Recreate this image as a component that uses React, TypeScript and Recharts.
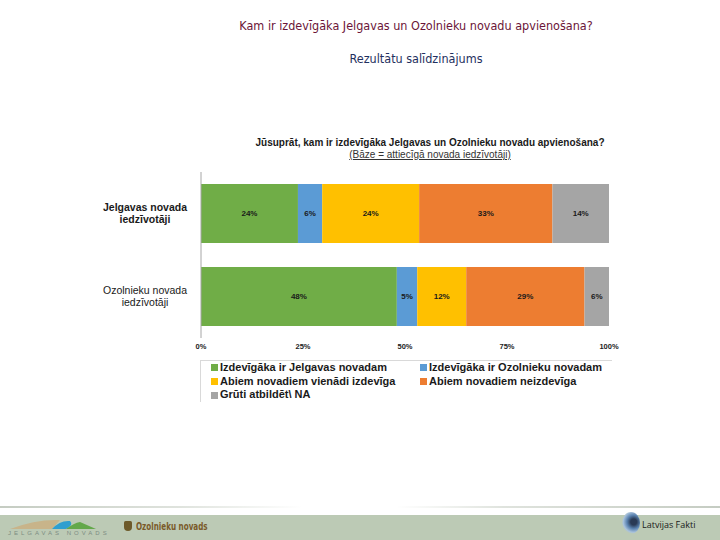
import { BarChart, Bar, XAxis, YAxis, LabelList, Legend } from "recharts";

// categories (rows) and the five answer options
const CATEGORIES = ["Jelgavas novada|iedzīvotāji", "Ozolnieku novada|iedzīvotāji"];
const SERIES_KEYS = ["jelgava", "ozolnieki", "abiem", "neizdeviga", "gruti"];
const SERIES_NAMES = [
  "Izdevīgāka ir Jelgavas novadam",
  "Izdevīgāka ir Ozolnieku novadam",
  "Abiem novadiem vienādi izdevīga",
  "Abiem novadiem neizdevīga",
  "Grūti atbildēt\\ NA",
];
const SERIES_COLORS = ["#70ad47", "#5b9bd5", "#ffc000", "#ed7d31", "#a5a5a5"];

const JELGAVA_VALUES = [24, 48];
const OZOLNIEKI_VALUES = [6, 5];
const ABIEM_VALUES = [24, 12];
const NEIZDEVIGA_VALUES = [33, 29];
const GRUTI_VALUES = [14, 6];

const X_TICKS = [0, 0.25, 0.5, 0.75, 1];

const SERIES_VALUES = [JELGAVA_VALUES, OZOLNIEKI_VALUES, ABIEM_VALUES, NEIZDEVIGA_VALUES, GRUTI_VALUES];

const data = CATEGORIES.map((name, i) => {
  const row: Record<string, string | number> = { name };
  SERIES_KEYS.forEach((k, s) => {
    row[k] = SERIES_VALUES[s][i];
  });
  return row;
});

const FONT = "'Liberation Sans', Arial, sans-serif";

function CategoryTick(props: any) {
  const { y, payload, index } = props;
  const lines = String(payload.value).split("|");
  return (
    <text
      x={145}
      y={y}
      textAnchor="middle"
      fontFamily={FONT}
      fontSize={10.5}
      fontWeight={index === 0 ? 700 : 400}
      fill="#1a1a1a"
    >
      {lines.map((l, j) => (
        <tspan key={j} x={145} dy={j === 0 ? -2.5 : 12}>
          {l}
        </tspan>
      ))}
    </text>
  );
}

function LegendBox(props: any) {
  // keep the series order of the original legend (recharts sorts by name)
  const payload = [...(props.payload || [])].sort(
    (a: any, b: any) => SERIES_NAMES.indexOf(a.value) - SERIES_NAMES.indexOf(b.value)
  );
  return (
    <div
      style={{
        display: "grid",
        gridTemplateColumns: "209px 200px",
        paddingLeft: 10,
        borderTop: "1px solid #d9d9d9",
        borderLeft: "1px solid #d9d9d9",
        height: 42,
        boxSizing: "border-box",
        fontFamily: FONT,
        fontSize: 11,
        fontWeight: 700,
        color: "#1a1a1a",
        lineHeight: "13.5px",
      }}
    >
      {payload.map((p: any) => (
        <div key={p.value} style={{ display: "flex", alignItems: "center", whiteSpace: "nowrap" }}>
          <span style={{ width: 7, height: 7, background: p.color, marginRight: 2, display: "inline-block" }} />
          {p.value}
        </div>
      ))}
    </div>
  );
}

export default function App() {
  return (
    <div
      style={{
        position: "absolute",
        left: 0,
        top: 0,
        width: 720,
        height: 540,
        background: "#fff",
        overflow: "hidden",
      }}
    >
      <div
        style={{
          position: "absolute",
          left: 0,
          width: 832,
          top: 18,
          textAlign: "center",
          fontFamily: "'DejaVu Sans Condensed', 'DejaVu Sans', sans-serif",
          fontSize: 12.5,
          color: "#6b1538",
        }}
      >
        Kam ir izdevīgāka Jelgavas un Ozolnieku novadu apvienošana?
      </div>
      <div
        style={{
          position: "absolute",
          left: 0,
          width: 832,
          top: 51,
          textAlign: "center",
          fontFamily: "'DejaVu Sans Condensed', 'DejaVu Sans', sans-serif",
          fontSize: 12.5,
          color: "#1f3060",
        }}
      >
        Rezultātu salīdzinājums
      </div>

      <BarChart
        width={720}
        height={430}
        data={data}
        layout="vertical"
        stackOffset="expand"
        barCategoryGap="14.5%"
        margin={{ top: 172, right: 111, left: 91, bottom: 72 }}
        style={{ position: "absolute", left: 0, top: 0 }}
      >
        <XAxis
          type="number"
          domain={[0, 1]}
          ticks={X_TICKS}
          tickFormatter={(v: number) => `${Math.round(v * 100)}%`}
          axisLine={false}
          tickLine={false}
          tickSize={4}
          tickMargin={2}
          height={20}
          interval={0}
          tick={{ fontSize: 7.5, fontWeight: 700, fill: "#222", fontFamily: FONT }}
        />
        <XAxis
          xAxisId="top"
          orientation="top"
          type="number"
          domain={[0, 1]}
          height={0}
          tick={false}
          tickLine={false}
          axisLine={{ stroke: "#c8c8c8" }}
        />
        <YAxis
          type="category"
          dataKey="name"
          width={110}
          tick={<CategoryTick />}
          tickLine={false}
          axisLine={{ stroke: "#a6a6a6" }}
        />
        <YAxis
          yAxisId="right"
          orientation="right"
          type="category"
          dataKey="name"
          width={0}
          tick={false}
          tickLine={false}
          axisLine={{ stroke: "#c8c8c8" }}
        />
        <Legend
          layout="vertical"
          align="center"
          verticalAlign="middle"
          content={<LegendBox />}
          wrapperStyle={{ left: 200, top: 360, width: 412, height: 42 }}
        />
        {SERIES_KEYS.map((k, s) => (
          <Bar
            key={k}
            dataKey={k}
            name={SERIES_NAMES[s]}
            stackId="a"
            fill={SERIES_COLORS[s]}
            isAnimationActive={false}
          >
            <LabelList
              dataKey={k}
              position="center"
              formatter={(v: any) => `${v}%`}
              style={{ fontSize: 8, fontWeight: 700, fill: "#1a1a1a", fontFamily: FONT }}
            />
          </Bar>
        ))}
      </BarChart>

      <div
        style={{
          position: "absolute",
          left: 0,
          width: 860,
          top: 137,
          textAlign: "center",
          fontFamily: FONT,
          fontSize: 10,
          fontWeight: 700,
          color: "#1a1a1a",
          lineHeight: "12px",
        }}
      >
        Jūsuprāt, kam ir izdevīgāka Jelgavas un Ozolnieku novadu apvienošana?
        <div style={{ fontWeight: 400, textDecoration: "underline", color: "#333" }}>
          (Bāze = attiecīgā novada iedzīvotāji)
        </div>
      </div>

      {/* footer */}
      <div
        style={{
          position: "absolute",
          left: 0,
          top: 506,
          width: 720,
          height: 2,
          background: "linear-gradient(90deg, #c5ccc2 0%, #dfe3dd 25%, #fff 42%, #fff 55%, #dfe3dd 70%, #c5ccc2 100%)",
        }}
      />
      <div style={{ position: "absolute", left: 0, top: 515, width: 720, height: 25, background: "#bccab5" }}>
        <svg width={90} height={16} style={{ position: "absolute", left: 8, top: 1 }}>
          <path d="M2 13 Q28 3 52 4 L44 13 Z" fill="#c8b48a" />
          <path d="M44 13 Q52 4 62 5 Q66 9 58 13 Z" fill="#2f9fd0" />
          <path d="M58 13 Q66 7 72 6 L88 13 Z" fill="#63a84a" />
        </svg>
        <div
          style={{
            position: "absolute",
            left: 8,
            top: 15,
            fontFamily: FONT,
            fontSize: 6,
            letterSpacing: 3,
            color: "#7c8c82",
          }}
        >
          JELGAVAS NOVADS
        </div>
        <div
          style={{
            position: "absolute",
            left: 124,
            top: 6,
            width: 8,
            height: 10,
            borderRadius: "2px 2px 5px 5px",
            background: "#6d5a2a",
          }}
        />
        <div
          style={{
            position: "absolute",
            left: 136,
            top: 6,
            fontFamily: "'DejaVu Sans Condensed', sans-serif",
            fontSize: 10,
            fontWeight: 700,
            color: "#7a5a2a",
            transform: "scaleX(0.8)",
            transformOrigin: "left",
          }}
        >
          Ozolnieku novads
        </div>
        <div
          style={{
            position: "absolute",
            left: 622,
            top: -3,
            width: 18,
            height: 22,
            borderRadius: "50%",
            background: "radial-gradient(circle at 65% 45%, #2a3a55 0 18%, #5a82b0 40%, #a9c2dc 62%, #bccab5 72%)",
          }}
        />
        <div
          style={{
            position: "absolute",
            left: 642,
            top: 3,
            fontFamily: "'Open Sans', sans-serif",
            fontSize: 9,
            color: "#1a1a1a",
          }}
        >
          Latvijas Fakti
        </div>
      </div>
    </div>
  );
}
